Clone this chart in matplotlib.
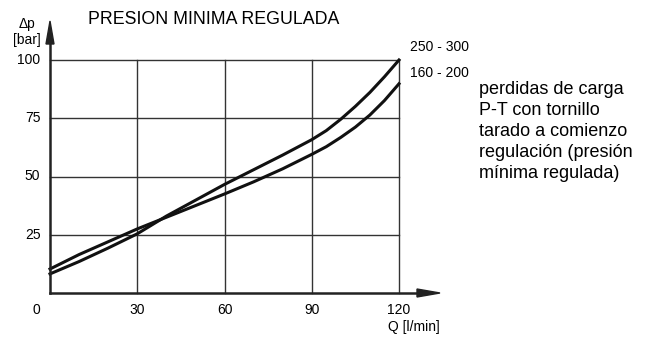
import matplotlib
matplotlib.use("Agg")
import matplotlib.pyplot as plt

plt.rcParams['font.family'] = ['Liberation Sans', 'DejaVu Sans']

# Data
q_a = [0, 10, 20, 30, 40, 50, 60, 70, 80, 90, 95, 100, 105, 110, 115, 120]
dp_a = [8.2, 13.5, 19.3, 25.4, 33.0, 39.8, 46.6, 52.9, 59.2, 65.8, 69.7, 74.6, 80.1, 86.1, 92.8, 100.0]
q_b = [0, 10, 20, 30, 40, 50, 60, 70, 80, 90, 95, 100, 105, 110, 115, 120]
dp_b = [10.3, 16.5, 22.0, 27.5, 32.5, 37.5, 42.5, 47.7, 53.3, 59.5, 62.8, 66.8, 71.2, 76.4, 82.6, 89.8]
label_a = "250 - 300"
label_b = "160 - 200"
x_ticks = [30, 60, 90, 120]
y_ticks = [25, 50, 75, 100]

W, H = 647, 341
fig = plt.figure(figsize=(W / 100, H / 100), dpi=100)
L, R, B, T = 50, 399, 293, 60
ax = fig.add_axes([L / W, 1 - B / H, (R - L) / W, (B - T) / H])
ax.set_xlim(0, 120)
ax.set_ylim(0, 100)
ax.axis('off')

grid_c = '#333333'
for x in x_ticks:
    ax.plot([x, x], [0, 100], color=grid_c, lw=1.0, clip_on=False)
for y in y_ticks:
    ax.plot([0, 120], [y, y], color=grid_c, lw=1.0, clip_on=False)

ax.plot(q_a, dp_a, color='#111111', lw=2.2, clip_on=False, solid_joinstyle='round')
ax.plot(q_b, dp_b, color='#111111', lw=2.2, clip_on=False, solid_joinstyle='round')

def fx(px):
    return px / W
def fy(py):
    return 1 - py / H

arrow_c = '#222222'
fig.add_artist(matplotlib.lines.Line2D([fx(50), fx(50)], [fy(293), fy(42)], color=arrow_c, lw=1.8))
fig.add_artist(matplotlib.patches.Polygon([[fx(46), fy(44)], [fx(54), fy(44)], [fx(50), fy(21)]],
                                          closed=True, color=arrow_c, transform=fig.transFigure))
fig.add_artist(matplotlib.lines.Line2D([fx(50), fx(418)], [fy(293), fy(293)], color=arrow_c, lw=1.8))
fig.add_artist(matplotlib.patches.Polygon([[fx(417), fy(289)], [fx(417), fy(297)], [fx(440), fy(293)]],
                                          closed=True, color=arrow_c, transform=fig.transFigure))

fs = 10
for y in y_ticks:
    ax.text(-3.3, y, str(y), ha='right', va='center', fontsize=fs)
for x in x_ticks:
    ax.text(x, -7.3, str(x), ha='center', va='center', fontsize=fs)
fig.text(fx(36), fy(310), "0", ha='center', va='center', fontsize=fs)
fig.text(fx(440), fy(327), "Q [l/min]", ha='right', va='center', fontsize=fs)
fig.text(fx(27), fy(24), "Δp", ha='center', va='center', fontsize=fs)
fig.text(fx(26.5), fy(40), "[bar]", ha='center', va='center', fontsize=fs)

fig.text(fx(88), fy(20), "PRESION MINIMA REGULADA", ha='left', va='center', fontsize=12.8)

fig.text(fx(410), fy(47), label_a, ha='left', va='center', fontsize=fs)
fig.text(fx(410), fy(73), label_b, ha='left', va='center', fontsize=fs)

desc = ["perdidas de carga", "P-T con tornillo", "tarado a comienzo",
        "regulación (presión", "mínima regulada)"]
for i, line in enumerate(desc):
    fig.text(fx(479), fy(90 + i * 20.8), line, ha='left', va='center', fontsize=13)

fig.savefig("out.png", dpi=100)
